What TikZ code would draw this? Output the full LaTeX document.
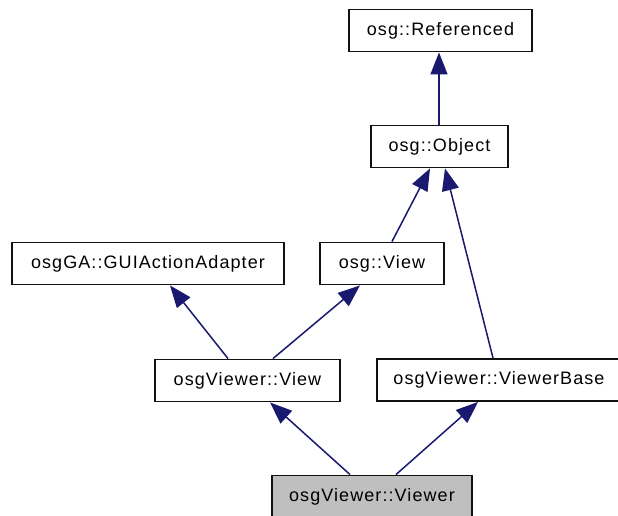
\documentclass[tikz,border=0pt]{standalone}
\usepackage{fontspec}
\newfontfamily\classfont[LetterSpace=6]{Liberation Sans}
\usetikzlibrary{arrows.meta}
\definecolor{edgeblue}{HTML}{191970}
\definecolor{boxline}{HTML}{111111}
\definecolor{focusfill}{HTML}{BFBFBF}
\tikzset{
  cls/.style={draw=boxline, line width=1.9pt, fill=white, rectangle,
    minimum height=42pt, inner sep=0pt, text=black,
    font=\classfont\fontsize{18}{20}\selectfont},
  focus/.style={cls, fill=focusfill},
  inherit/.style={draw=edgeblue, line width=1.5pt,
    -{Triangle[length=22pt,width=17pt]}}
}
\begin{document}
\begin{tikzpicture}[x=1pt,y=-1pt]
  \useasboundingbox (0,0) rectangle (618,516);
  \clip (0,0) rectangle (618,516);
  \fill[white] (0,0) rectangle (618,516);

  % class boxes
  \node[cls, minimum width=183pt] (ref)    at (440.5,30.5) {osg::Referenced};
  \node[cls, minimum width=137pt] (obj)    at (439.5,146.5) {osg::Object};
  \node[cls, minimum width=272pt] (gui)    at (148,263.5) {osgGA::GUIActionAdapter};
  \node[cls, minimum width=124pt] (view)   at (382,263.5) {osg::View};
  \node[cls, minimum width=185pt] (vview)  at (247.5,380.5) {osgViewer::View};
  \node[cls, minimum width=244pt] (vbase)  at (499,380) {osgViewer::ViewerBase};
  \node[focus, minimum width=200pt] (viewer) at (372,496.5) {osgViewer::Viewer};

  % inheritance edges, child to parent
  \draw[inherit] ([xshift=-0.5pt]obj.north) -- ([xshift=-1.5pt]ref.south);
  \draw[inherit] ([xshift=10pt]view.north) -- ([xshift=-9.5pt]obj.south);
  \draw[inherit] ([xshift=-6pt]vbase.north) -- ([xshift=5.5pt]obj.south);
  \draw[inherit] ([xshift=-19.5pt]vview.north) -- ([xshift=22pt]gui.south);
  \draw[inherit] ([xshift=25.5pt]vview.north) -- ([xshift=-22pt]view.south);
  \draw[inherit] ([xshift=-22pt]viewer.north) -- ([xshift=22.5pt]vview.south);
  \draw[inherit] ([xshift=24pt]viewer.north) -- ([xshift=-21pt]vbase.south);
\end{tikzpicture}
\end{document}
